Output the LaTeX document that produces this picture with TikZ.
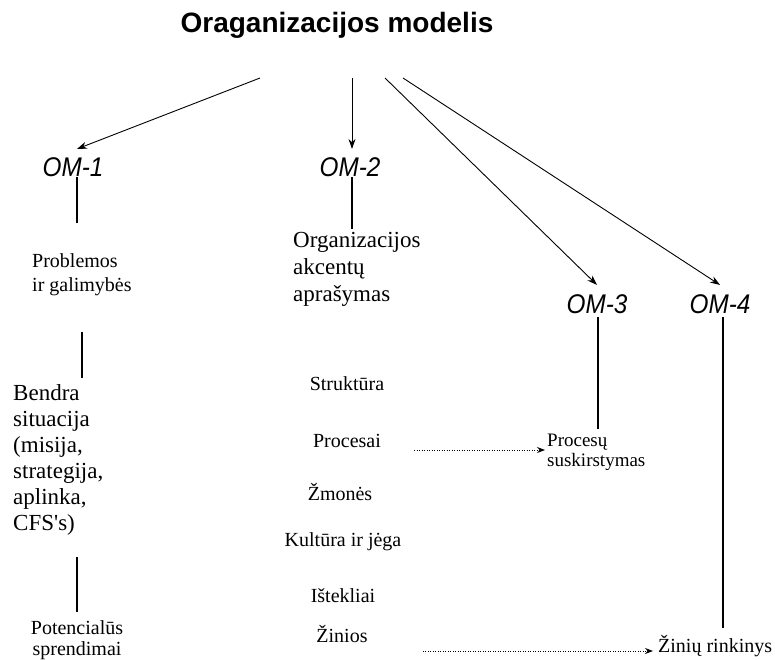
\documentclass[tikz,border=0pt]{standalone}
\usepackage{fontspec}
\setmainfont{Liberation Serif}
\newfontfamily\headfont{Liberation Sans}
\newfontfamily\omfont[FakeStretch=0.9]{Liberation Sans}
\usetikzlibrary{arrows.meta}
\begin{document}
\begin{tikzpicture}[x=1pt,y=-1pt,
  txt/.style={inner sep=0pt, font=\fontsize{20}{24}\selectfont},
  bigtxt/.style={inner sep=0pt, align=left, anchor=base west},
  om/.style={inner sep=0pt, anchor=base, font=\omfont\itshape\fontsize{27}{30}\selectfont},
  link/.style={line width=1.2pt},
  mainarrow/.style={line width=0.9pt, -{Stealth[length=10pt,width=7pt]}},
  dotarrow/.style={line width=1pt, dash pattern=on 1pt off 1.5pt, -{Stealth[length=8pt,width=6pt]}}]
\useasboundingbox (0,0) rectangle (775,660);

% title
\node[anchor=base, inner sep=0pt, font=\headfont\bfseries\fontsize{28}{32}\selectfont]
  (title) at (337,33) {Oraganizacijos modelis};

% the four sub-models
\node[om] (om1) at (73,177) {OM-1};
\node[om] (om2) at (350,177) {OM-2};
\node[om] (om3) at (597,313) {OM-3};
\node[om] (om4) at (720,313) {OM-4};

% OM-1 column (multi-line nodes sit on the baseline of their last line)
\node[txt, bigtxt] (prob) at (32,291) {Problemos\\ir galimybės};
\node[bigtxt, font=\fontsize{23}{26}\selectfont] (bendra) at (13,530)
  {Bendra\\situacija\\(misija,\\strategija,\\aplinka,\\CFS\textquotesingle s)};
\node[txt, anchor=base, align=center, font=\fontsize{20}{21}\selectfont] (potenc) at (77,655)
  {Potencialūs\\sprendimai};

% OM-2 column
\node[bigtxt, font=\fontsize{23}{27}\selectfont] (org) at (293,301)
  {Organizacijos\\akcentų\\aprašymas};
\node[txt, anchor=base] (strukt) at (347,390) {Struktūra};
\node[txt, anchor=base] (procesai) at (347,447) {Procesai};
\node[txt, anchor=base] (zmones) at (340,500) {Žmonės};
\node[txt, anchor=base] (kultura) at (343,546) {Kultūra ir jėga};
\node[txt, anchor=base] (istekl) at (343,602) {Ištekliai};
\node[txt, anchor=base] (zinios) at (342,642) {Žinios};

% OM-3 and OM-4 results
\node[bigtxt, font=\fontsize{19}{19.5}\selectfont] (procesu) at (547,466)
  {Procesų\\suskirstymas};
\node[txt, anchor=base west] (zin) at (658,652) {Žinių rinkinys};

% arrows from the title
\coordinate (s1) at (260,78);
\coordinate (s2) at (352,78);
\coordinate (s3) at (385,78);
\coordinate (s4) at (403,78);
\draw[mainarrow] (s1) -- ([xshift=4pt,yshift=9pt]om1.north);
\draw[mainarrow] (s2) -- ([xshift=2pt,yshift=9pt]om2.north);
\draw[mainarrow] (s3) -- ([yshift=9pt]om3.north);
\draw[mainarrow] (s4) -- ([yshift=9pt]om4.north);

% vertical links
\draw[link, shorten >=30pt] ([xshift=4pt]om1.south) -- ([xshift=4pt]om1.south |- prob.north);
\draw[link, shorten <=36pt, shorten >=6pt] (prob.south) -- (prob.south |- bendra.north);
\draw[link, shorten <=22pt, shorten >=8pt] (potenc.north |- bendra.south) -- (potenc.north);
\draw[link, shorten >=3pt] ([xshift=2pt]om2.south) -- ([xshift=2pt]om2.south |- org.north);
\draw[link, shorten <=4pt, shorten >=5pt] ([xshift=1pt]om3.south) -- ([xshift=1pt]om3.south |- procesu.north);
\draw[link, shorten <=4pt, shorten >=7pt] ([xshift=3pt]om4.south) -- ([xshift=3pt]om4.south |- zin.north);

% dotted mappings
\path ([xshift=-2pt,yshift=-3pt]procesu.base west |- procesai.base) coordinate (p2);
\draw[dotarrow] ([xshift=33pt]procesai.base east |- p2) -- (p2);
\path ([xshift=-5pt,yshift=1pt]zin.base west) coordinate (z2);
\draw[dotarrow] ([xshift=55pt]zinios.base east |- z2) -- (z2);
\end{tikzpicture}
\end{document}
